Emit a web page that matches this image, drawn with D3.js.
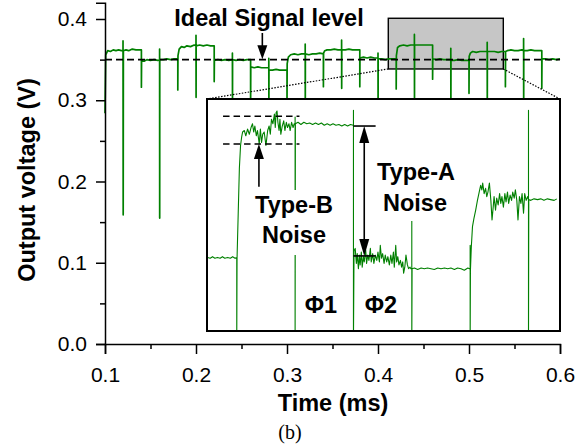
<!DOCTYPE html>
<html><head><meta charset="utf-8">
<script src="https://cdn.jsdelivr.net/npm/d3@7"></script>
<style>body{margin:0;background:#fff} svg{display:block} text{font-family:"Liberation Sans",Arial,sans-serif}</style>
</head><body><svg id="c" width="577" height="447"></svg>
<script>
// ---------- data ----------
const xTicks = [0.1, 0.2, 0.3, 0.4, 0.5, 0.6];
const xMinor = [0.15, 0.25, 0.35, 0.45, 0.55];
const yTicks = [0.0, 0.1, 0.2, 0.3, 0.4];
const yMinor = [0.05, 0.15, 0.25, 0.35];
const idealLevel = 0.35;

// main recording: [time (ms), output voltage (V)]
const mainTrace = [
[0.1000,0.284],[0.1008,0.356],[0.1030,0.361],[0.1060,0.360],[0.1090,0.362],[0.1120,0.361],[0.1150,0.362],[0.1180,0.361],
[0.1198,0.361],[0.1198,0.373],[0.1200,0.159],[0.1202,0.361],[0.1230,0.362],[0.1260,0.361],[0.1300,0.363],[0.1340,0.362],[0.1380,0.362],
[0.1400,0.362],[0.1400,0.316],[0.1402,0.349],[0.1430,0.348],[0.1460,0.350],[0.1500,0.349],[0.1540,0.350],[0.1580,0.349],
[0.1600,0.350],[0.1600,0.363],[0.1601,0.155],[0.1602,0.350],[0.1640,0.350],[0.1680,0.351],[0.1720,0.350],[0.1760,0.351],
[0.1800,0.351],[0.1800,0.3126],[0.1802,0.355],[0.1815,0.363],[0.1840,0.366],[0.1870,0.365],[0.1900,0.367],[0.1940,0.366],[0.1980,0.368],
[0.2000,0.367],[0.2000,0.380],[0.2001,0.3036],[0.2002,0.367],[0.2040,0.368],[0.2080,0.367],[0.2120,0.368],[0.2160,0.367],
[0.2200,0.367],[0.2200,0.323],[0.2202,0.349],[0.2240,0.350],[0.2280,0.349],[0.2320,0.350],[0.2360,0.349],
[0.2400,0.350],[0.2400,0.358],[0.2401,0.290],[0.2402,0.350],[0.2440,0.349],[0.2480,0.350],[0.2520,0.349],[0.2560,0.350],
[0.2600,0.350],[0.2600,0.290],[0.2602,0.341],[0.2640,0.340],[0.2680,0.341],[0.2720,0.340],[0.2760,0.340],
[0.2800,0.340],[0.2800,0.3515],[0.2801,0.290],[0.2802,0.337],[0.2840,0.337],[0.2880,0.338],[0.2920,0.337],[0.2960,0.337],
[0.3000,0.337],[0.3000,0.290],[0.3002,0.345],[0.3015,0.353],[0.3040,0.356],[0.3080,0.357],[0.3120,0.356],[0.3160,0.357],
[0.3200,0.357],[0.3200,0.369],[0.3201,0.290],[0.3202,0.357],[0.3240,0.356],[0.3280,0.357],[0.3320,0.357],[0.3360,0.358],
[0.3400,0.357],[0.3400,0.3167],[0.3402,0.358],[0.3415,0.361],[0.3440,0.362],[0.3480,0.362],[0.3520,0.363],[0.3560,0.362],
[0.3600,0.362],[0.3600,0.374],[0.3601,0.3147],[0.3602,0.362],[0.3640,0.362],[0.3680,0.363],[0.3720,0.362],[0.3760,0.362],
[0.3800,0.362],[0.3800,0.3167],[0.3802,0.352],[0.3840,0.353],[0.3880,0.352],[0.3920,0.353],[0.3960,0.352],
[0.4000,0.352],[0.4000,0.358],[0.4001,0.290],[0.4002,0.351],[0.4040,0.351],[0.4080,0.350],[0.4120,0.351],[0.4160,0.351],
[0.4200,0.351],[0.4200,0.314],[0.4202,0.355],[0.4215,0.365],[0.4240,0.367],[0.4280,0.368],[0.4320,0.367],[0.4360,0.368],
[0.4400,0.368],[0.4400,0.381],[0.4401,0.290],[0.4402,0.368],[0.4440,0.368],[0.4480,0.368],[0.4520,0.368],[0.4560,0.368],
[0.4600,0.368],[0.4600,0.326],[0.4602,0.351],[0.4640,0.350],[0.4680,0.351],[0.4720,0.350],[0.4760,0.350],
[0.4800,0.350],[0.4800,0.364],[0.4801,0.290],[0.4802,0.349],[0.4840,0.349],[0.4880,0.350],[0.4920,0.349],[0.4960,0.349],
[0.5000,0.349],[0.5000,0.3085],[0.5002,0.354],[0.5015,0.358],[0.5040,0.360],[0.5080,0.359],[0.5120,0.360],[0.5160,0.360],
[0.5200,0.360],[0.5200,0.3713],[0.5201,0.290],[0.5202,0.360],[0.5240,0.360],[0.5280,0.360],[0.5320,0.359],[0.5360,0.360],
[0.5400,0.360],[0.5400,0.3167],[0.5402,0.360],[0.5420,0.361],[0.5460,0.362],[0.5500,0.361],[0.5540,0.361],[0.5580,0.362],
[0.5600,0.361],[0.5600,0.376],[0.5601,0.290],[0.5602,0.361],[0.5640,0.361],[0.5680,0.362],[0.5720,0.361],[0.5760,0.361],
[0.5800,0.361],[0.5800,0.3147],[0.5802,0.351],[0.5840,0.351],[0.5880,0.350],[0.5920,0.351],[0.5960,0.350],[0.6000,0.351]
];

// zoomed recording shown in the inset
const insetTrace = [
[0.4100,0.3501],[0.4109,0.3500],[0.4117,0.3502],[0.4125,0.3500],[0.4134,0.3501],[0.4143,0.3500],[0.4151,0.3502],[0.4159,0.3500],
[0.4169,0.3501],[0.4178,0.3500],[0.4186,0.3502],[0.4194,0.3500],[0.4200,0.3501],
[0.4200,0.3390],[0.4201,0.3500],[0.4205,0.3560],[0.4209,0.3620],[0.4213,0.3650],[0.4217,0.3662],
[0.4220,0.3668],[0.4226,0.3670],[0.4231,0.3663],[0.4237,0.3672],[0.4243,0.3665],[0.4249,0.3674],[0.4254,0.3679],[0.4258,0.3668],
[0.4262,0.3676],[0.4267,0.3663],[0.4271,0.3670],[0.4277,0.3652],[0.4281,0.3672],[0.4285,0.3654],[0.4289,0.3665],[0.4294,0.3668],
[0.4300,0.3650],[0.4306,0.3670],[0.4311,0.3676],[0.4315,0.3665],[0.4319,0.3685],[0.4324,0.3679],[0.4329,0.3692],[0.4332,0.3674],
[0.4335,0.3694],[0.4338,0.3696],[0.4341,0.3681],[0.4345,0.3670],[0.4348,0.3685],[0.4351,0.3665],[0.4356,0.3676],[0.4361,0.3683],
[0.4365,0.3670],[0.4370,0.3681],[0.4374,0.3674],[0.4379,0.3679],[0.4383,0.3670],[0.4388,0.3681],[0.4393,0.3674],[0.4397,0.3679],
[0.4400,0.3678],[0.4400,0.3688],[0.4400,0.3390],[0.4401,0.3679],
[0.4410,0.3681],[0.4420,0.3678],[0.4430,0.3681],[0.4440,0.3679],[0.4450,0.3680],[0.4460,0.3678],[0.4470,0.3680],[0.4480,0.3678],
[0.4490,0.3680],[0.4500,0.3677],[0.4510,0.3679],[0.4520,0.3677],[0.4530,0.3679],[0.4540,0.3677],[0.4550,0.3678],[0.4560,0.3676],
[0.4570,0.3678],[0.4580,0.3676],[0.4590,0.3678],[0.4599,0.3677],
[0.4600,0.3677],[0.4600,0.3697],[0.4600,0.3390],[0.4602,0.3510],
[0.4606,0.3513],[0.4610,0.3493],[0.4613,0.3506],[0.4617,0.3486],[0.4620,0.3504],[0.4623,0.3491],[0.4627,0.3508],[0.4630,0.3488],
[0.4634,0.3502],[0.4637,0.3495],[0.4642,0.3511],[0.4645,0.3493],[0.4649,0.3504],[0.4653,0.3497],[0.4658,0.3513],[0.4661,0.3495],
[0.4666,0.3506],[0.4670,0.3493],[0.4675,0.3504],[0.4680,0.3497],[0.4684,0.3508],[0.4689,0.3495],[0.4692,0.3517],[0.4696,0.3500],
[0.4700,0.3506],[0.4705,0.3493],[0.4709,0.3504],[0.4714,0.3495],[0.4718,0.3502],[0.4723,0.3491],[0.4728,0.3504],[0.4732,0.3493],
[0.4737,0.3508],[0.4740,0.3488],[0.4745,0.3517],[0.4748,0.3495],[0.4752,0.3502],[0.4756,0.3491],[0.4761,0.3497],[0.4765,0.3488],
[0.4769,0.3495],[0.4772,0.3480],[0.4776,0.3488],[0.4780,0.3504],[0.4785,0.3491],[0.4789,0.3486],[0.4794,0.3488],[0.4797,0.3486],
[0.4800,0.3486],[0.4800,0.3620],[0.4800,0.3390],[0.4801,0.3486],
[0.4809,0.3487],[0.4820,0.3485],[0.4832,0.3487],[0.4843,0.3486],[0.4854,0.3487],[0.4866,0.3486],[0.4877,0.3485],[0.4889,0.3487],
[0.4900,0.3486],[0.4912,0.3487],[0.4923,0.3486],[0.4934,0.3487],[0.4946,0.3485],[0.4957,0.3487],[0.4969,0.3486],[0.4980,0.3484],
[0.4992,0.3487],[0.4998,0.3486],
[0.5000,0.3486],[0.5000,0.3517],[0.5000,0.3390],[0.5001,0.3484],
[0.5004,0.3515],[0.5008,0.3542],[0.5013,0.3553],[0.5019,0.3564],[0.5025,0.3577],[0.5031,0.3588],[0.5036,0.3597],[0.5040,0.3591],
[0.5043,0.3600],[0.5048,0.3586],[0.5053,0.3593],[0.5057,0.3582],[0.5061,0.3588],[0.5066,0.3600],[0.5071,0.3577],[0.5075,0.3551],
[0.5079,0.3568],[0.5082,0.3582],[0.5087,0.3564],[0.5091,0.3580],[0.5096,0.3571],[0.5101,0.3586],[0.5105,0.3573],[0.5109,0.3582],
[0.5114,0.3568],[0.5119,0.3586],[0.5123,0.3575],[0.5128,0.3588],[0.5132,0.3573],[0.5137,0.3584],[0.5142,0.3577],[0.5146,0.3588],
[0.5151,0.3580],[0.5155,0.3591],[0.5160,0.3577],[0.5164,0.3551],[0.5169,0.3582],[0.5174,0.3573],[0.5178,0.3586],[0.5183,0.3560],
[0.5187,0.3586],[0.5192,0.3577],[0.5197,0.3582],[0.5200,0.3578],
[0.5200,0.3697],[0.5200,0.3390],[0.5201,0.3578],
[0.5208,0.3577],[0.5219,0.3579],[0.5231,0.3578],[0.5242,0.3579],[0.5253,0.3577],[0.5265,0.3579],[0.5276,0.3578],[0.5288,0.3577],[0.5297,0.3579]
];

const zoomBoxT = [0.4113, 0.5377];
const zoomBoxV = [0.3385, 0.4009];
const insetT = [0.4098, 0.5308];
const insetV = [0.3403, 0.3712];
const typeBBand = [0.3652, 0.3689];
const typeBSpanT = [0.4153, 0.4415];
const typeBArrow = {t: 0.4276, from: 0.3595, to: 0.3652};
const typeALevels = [0.3503, 0.3676];
const typeASpanT = [0.4600, 0.4676];
const typeAArrowT = 0.4637;
const idealArrow = {t: 0.2729, from: 0.3828, to: 0.3504};

// ---------- drawing ----------
const svg = d3.select("#c");
const GREEN = "#008000";
const FONT_BIG = 23.5;

const x = d3.scaleLinear().domain([0.1, 0.6]).range([105, 560]);
const y = d3.scaleLinear().domain([0, 0.42]).range([344, 2.75]);

// gray zoom box
svg.append("rect")
  .attr("x", x(zoomBoxT[0])).attr("y", y(zoomBoxV[1]))
  .attr("width", x(zoomBoxT[1]) - x(zoomBoxT[0]))
  .attr("height", y(zoomBoxV[0]) - y(zoomBoxV[1]))
  .attr("fill", "#c6c6c6").attr("stroke", "#000").attr("stroke-width", 1.4);

// main trace
const line = d3.line().x(d => x(d[0])).y(d => y(d[1]));
svg.append("path").datum(mainTrace).attr("d", line)
  .attr("fill", "none").attr("stroke", GREEN).attr("stroke-width", 1.7).attr("stroke-linejoin", "round");

// ideal dashed line
svg.append("line")
  .attr("x1", x(0.1)).attr("x2", x(0.6)).attr("y1", y(idealLevel)).attr("y2", y(idealLevel))
  .attr("stroke", "#000").attr("stroke-width", 1.8).attr("stroke-dasharray", "7,4");

function arrowHead(g, px, tipY, dir, len, hw) {
  const baseY = tipY - dir * len;
  g.append("path")
    .attr("d", `M${px},${tipY}L${px - hw},${baseY}L${px + hw},${baseY}Z`)
    .attr("fill", "#000");
}
function vArrow(g, px, y0, y1, len, hw) {
  const dir = y1 > y0 ? 1 : -1;
  g.append("line").attr("x1", px).attr("x2", px).attr("y1", y0).attr("y2", y1 - dir * len * 0.6)
    .attr("stroke", "#000").attr("stroke-width", 1.6);
  arrowHead(g, px, y1, dir, len, hw);
}

// Ideal Signal level annotation
svg.append("text").attr("x", 269).attr("y", 26).attr("text-anchor", "middle")
  .attr("font-size", FONT_BIG).attr("font-weight", "bold").text("Ideal Signal level");
vArrow(svg, x(idealArrow.t), y(idealArrow.from), y(idealArrow.to), 14, 5);

// axes
const gx = svg.append("g").attr("transform", "translate(0,344)");
gx.call(d3.axisBottom(x).tickValues(xTicks).tickSize(10).tickPadding(13).tickFormat(d3.format(".1f")));
const gxm = gx.append("g").call(d3.axisBottom(x).tickValues(xMinor).tickSize(5).tickFormat(""));
gxm.select("path.domain").remove();
gx.selectAll("path.domain").attr("stroke-width", 1.5);
gx.selectAll("line").attr("stroke-width", 1.5);
gx.selectAll("text").attr("font-size", 21).attr("font-family", '"Liberation Sans",Arial,sans-serif');

const gy = svg.append("g").attr("transform", "translate(105,0)");
gy.call(d3.axisLeft(y).tickValues(yTicks).tickSize(9).tickPadding(9).tickFormat(d3.format(".1f")));
const gym = gy.append("g").call(d3.axisLeft(y).tickValues(yMinor).tickSize(5).tickFormat(""));
gym.select("path.domain").remove();
gy.selectAll("path.domain").attr("stroke-width", 1.5);
gy.selectAll("line").attr("stroke-width", 1.5);
gy.selectAll("text").attr("font-size", 21).attr("font-family", '"Liberation Sans",Arial,sans-serif');

// axis titles
svg.append("text").attr("transform", "translate(35,180) rotate(-90)").attr("text-anchor", "middle")
  .attr("font-size", FONT_BIG).attr("font-weight", "bold").text("Output voltage (V)");
svg.append("text").attr("x", 333).attr("y", 411).attr("text-anchor", "middle")
  .attr("font-size", FONT_BIG).attr("font-weight", "bold").text("Time (ms)");
svg.append("text").attr("x", 290).attr("y", 439).attr("text-anchor", "middle")
  .attr("font-size", 20).style("font-size", "20px").style("font-family", '"Liberation Serif","DejaVu Serif",serif').text("(b)");

// ---------- inset ----------
const IX = [207, 560], IY = [99, 331];
const xi = d3.scaleLinear().domain(insetT).range(IX);
const yi = d3.scaleLinear().domain(insetV).range([IY[1], IY[0]]);

// dotted connectors
svg.append("line").attr("x1", x(zoomBoxT[0])).attr("y1", y(zoomBoxV[0])).attr("x2", IX[0]).attr("y2", IY[0])
  .attr("stroke", "#000").attr("stroke-width", 1.2).attr("stroke-dasharray", "1.5,1.5");
svg.append("line").attr("x1", x(zoomBoxT[1])).attr("y1", y(zoomBoxV[0])).attr("x2", IX[1]).attr("y2", IY[0])
  .attr("stroke", "#000").attr("stroke-width", 1.2).attr("stroke-dasharray", "1.5,1.5");

svg.append("clipPath").attr("id", "ic").append("rect")
  .attr("x", IX[0]).attr("y", IY[0]).attr("width", IX[1] - IX[0]).attr("height", IY[1] - IY[0]);
svg.append("rect").attr("x", IX[0]).attr("y", IY[0]).attr("width", IX[1] - IX[0]).attr("height", IY[1] - IY[0])
  .attr("fill", "#fff");

const ig = svg.append("g").attr("clip-path", "url(#ic)");
const iline = d3.line().x(d => xi(d[0])).y(d => yi(d[1]));
ig.append("path").datum(insetTrace).attr("d", iline)
  .attr("fill", "none").attr("stroke", GREEN).attr("stroke-width", 1.1).attr("stroke-linejoin", "round");

// Type-B band (dashed)
typeBBand.forEach(v => {
  ig.append("line").attr("x1", xi(typeBSpanT[0])).attr("x2", xi(typeBSpanT[1]))
    .attr("y1", yi(v)).attr("y2", yi(v))
    .attr("stroke", "#000").attr("stroke-width", 1.4).attr("stroke-dasharray", "6.5,4");
});

// Type-B label with white background
ig.append("rect").attr("x", 255).attr("y", 190).attr("width", 78).attr("height", 65).attr("fill", "#fff");
ig.append("text").attr("x", 294).attr("y", 213).attr("text-anchor", "middle")
  .attr("font-size", FONT_BIG).attr("font-weight", "bold").text("Type-B");
ig.append("text").attr("x", 294).attr("y", 243).attr("text-anchor", "middle")
  .attr("font-size", FONT_BIG).attr("font-weight", "bold").text("Noise");
vArrow(ig, xi(typeBArrow.t), yi(typeBArrow.from), yi(typeBArrow.to), 15, 5);

// Type-A label with white background
ig.append("rect").attr("x", 372).attr("y", 158).attr("width", 88).attr("height", 63).attr("fill", "#fff");
ig.append("text").attr("x", 416).attr("y", 180).attr("text-anchor", "middle")
  .attr("font-size", FONT_BIG).attr("font-weight", "bold").text("Type-A");
ig.append("text").attr("x", 415).attr("y", 211).attr("text-anchor", "middle")
  .attr("font-size", FONT_BIG).attr("font-weight", "bold").text("Noise");
typeALevels.forEach(v => {
  ig.append("line").attr("x1", xi(typeASpanT[0])).attr("x2", xi(typeASpanT[1]))
    .attr("y1", yi(v)).attr("y2", yi(v)).attr("stroke", "#000").attr("stroke-width", 1.6);
});
{
  const ax = xi(typeAArrowT), yt = yi(typeALevels[1]), yb = yi(typeALevels[0]);
  ig.append("line").attr("x1", ax).attr("x2", ax).attr("y1", yt + 10).attr("y2", yb - 10)
    .attr("stroke", "#000").attr("stroke-width", 1.6);
  arrowHead(ig, ax, yt, -1, 17, 5);
  arrowHead(ig, ax, yb, 1, 17, 5);
}

// phase labels
ig.append("text").attr("x", 321).attr("y", 313).attr("text-anchor", "middle")
  .attr("font-size", FONT_BIG).attr("font-weight", "bold").text("Φ1");
ig.append("text").attr("x", 381).attr("y", 313).attr("text-anchor", "middle")
  .attr("font-size", FONT_BIG).attr("font-weight", "bold").text("Φ2");

// inset frame
svg.append("rect").attr("x", IX[0]).attr("y", IY[0]).attr("width", IX[1] - IX[0]).attr("height", IY[1] - IY[0])
  .attr("fill", "none").attr("stroke", "#000").attr("stroke-width", 2);
</script></body></html>
